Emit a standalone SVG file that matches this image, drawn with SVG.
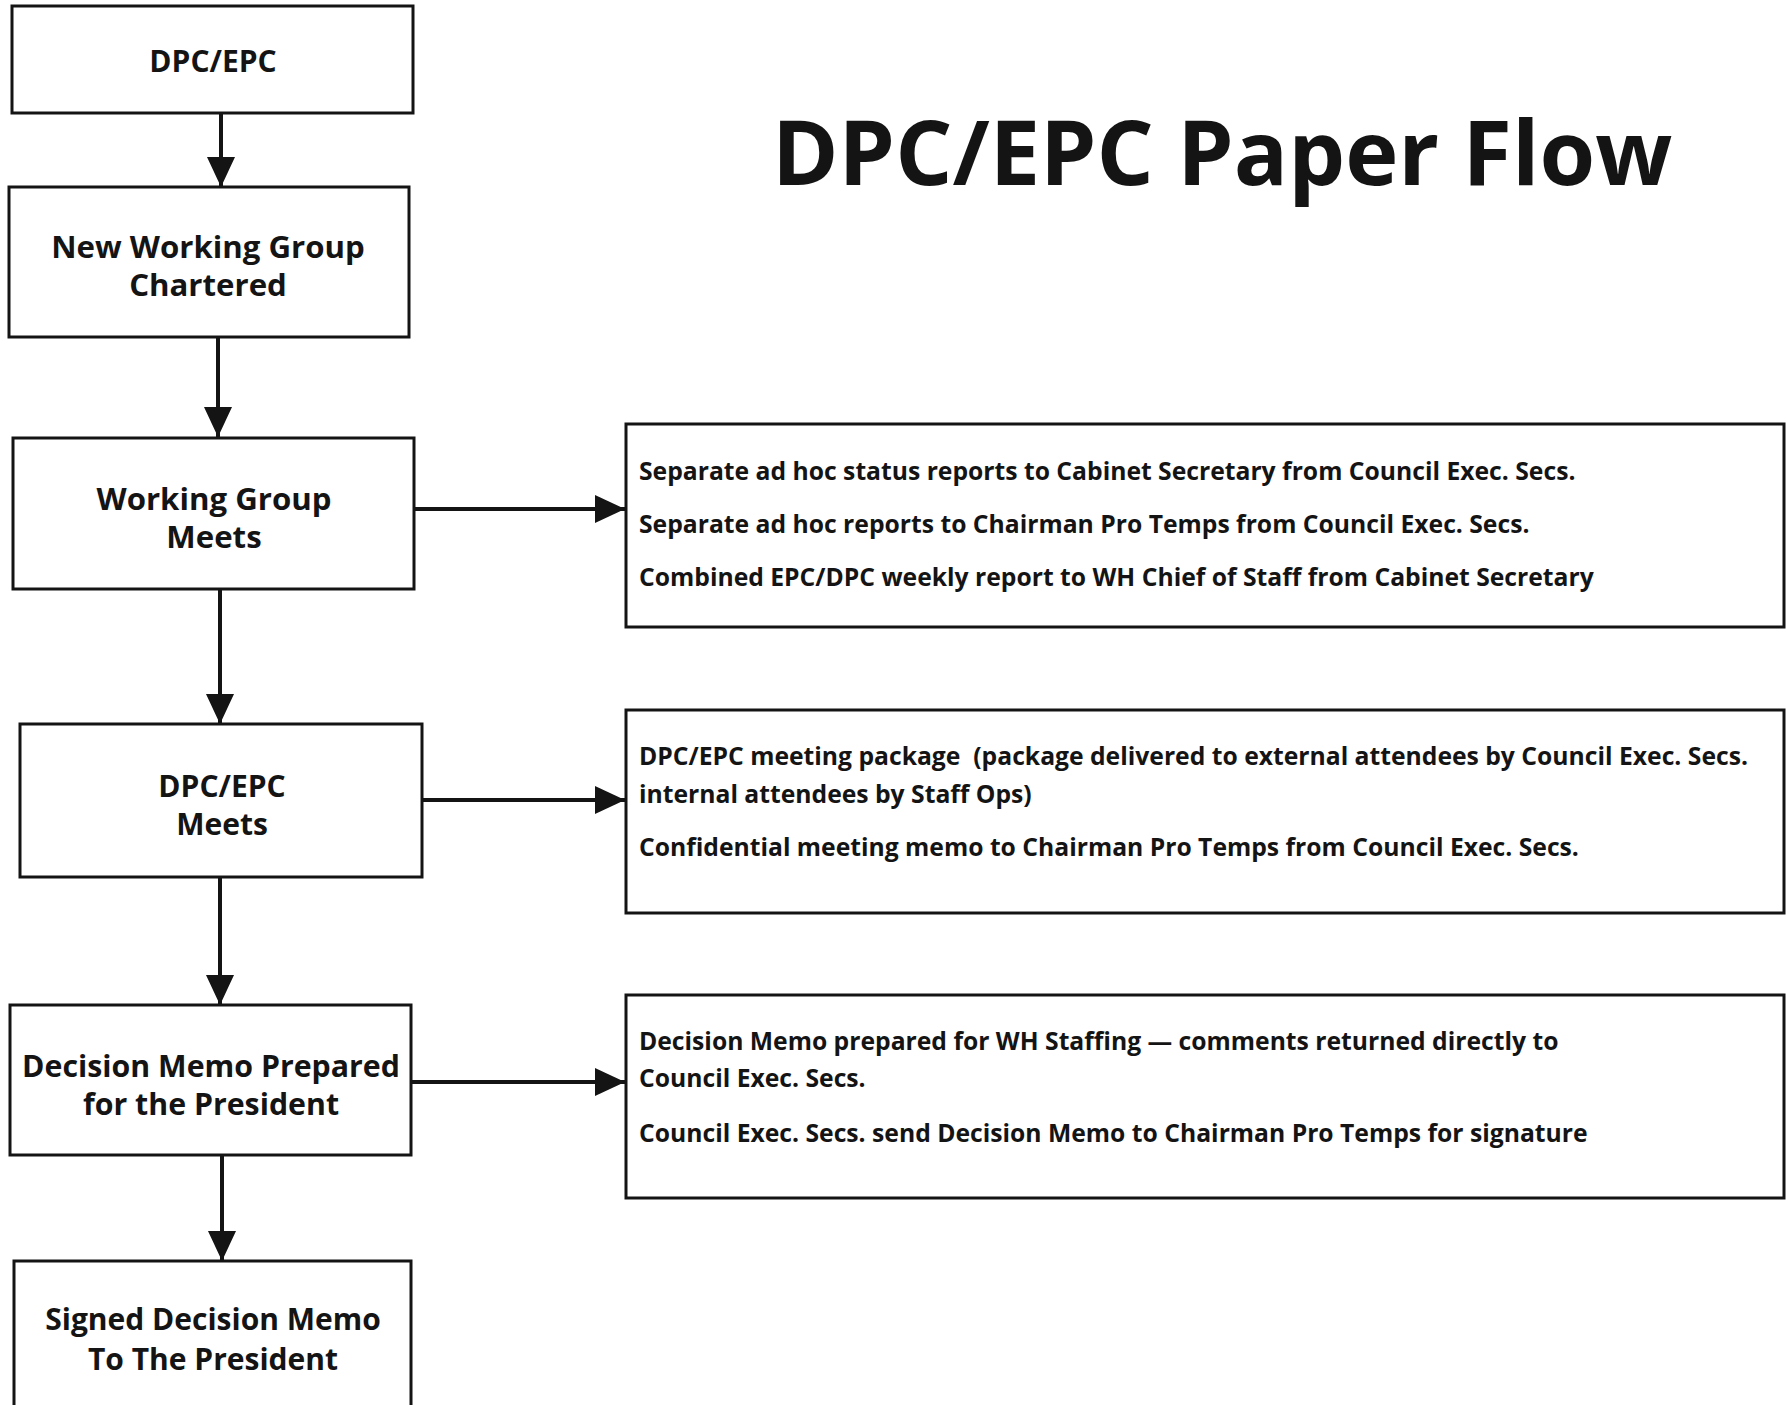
<svg xmlns="http://www.w3.org/2000/svg" width="1786" height="1405" viewBox="0 0 1786 1405">
<style>
.box{fill:#fff;stroke:#141414;stroke-width:3}
.lbl{font-family:"Open Sans","Liberation Sans",sans-serif;font-weight:700;font-size:30.3px;fill:#141414;text-anchor:middle}
.note{font-family:"Open Sans","Liberation Sans",sans-serif;font-weight:700;font-size:24.7px;fill:#141414}
.title{font-family:"Open Sans","Liberation Sans",sans-serif;font-weight:700;font-size:90px;fill:#141414}
.conn{stroke:#141414;stroke-width:4;fill:none}
</style>
<defs>
<marker id="ah" markerUnits="userSpaceOnUse" markerWidth="30" markerHeight="28" refX="30" refY="14" orient="auto">
<path d="M0,0 L30,14 L0,28 Z" fill="#141414"/>
</marker>
</defs>
<rect width="1786" height="1405" fill="#fff"/>
<text class="title" x="772" y="185">DPC/EPC Paper Flow</text>

<g id="connectors">
<line class="conn" x1="221" y1="113" x2="221" y2="187" marker-end="url(#ah)"/>
<line class="conn" x1="218" y1="337" x2="218" y2="437" marker-end="url(#ah)"/>
<line class="conn" x1="220" y1="589" x2="220" y2="724" marker-end="url(#ah)"/>
<line class="conn" x1="220" y1="877" x2="220" y2="1005" marker-end="url(#ah)"/>
<line class="conn" x1="222" y1="1156" x2="222" y2="1261" marker-end="url(#ah)"/>
<line class="conn" x1="414" y1="509" x2="625" y2="509" marker-end="url(#ah)"/>
<line class="conn" x1="422" y1="800" x2="625" y2="800" marker-end="url(#ah)"/>
<line class="conn" x1="411" y1="1082" x2="625" y2="1082" marker-end="url(#ah)"/>
</g>

<g id="n1">
<rect class="box" x="12" y="6" width="401" height="107"/>
<text class="lbl" x="213" y="72" style="font-size:30px">DPC/EPC</text>
</g>
<g id="n2">
<rect class="box" x="9" y="187" width="400" height="150"/>
<text class="lbl" x="208" y="258" style="font-size:31.2px">New Working Group</text>
<text class="lbl" x="208" y="296" style="font-size:31.2px">Chartered</text>
</g>
<g id="n3">
<rect class="box" x="13" y="438" width="401" height="151"/>
<text class="lbl" x="214" y="510" style="font-size:31.2px">Working Group</text>
<text class="lbl" x="214" y="548" style="font-size:31.2px">Meets</text>
</g>
<g id="n4">
<rect class="box" x="20" y="724" width="402" height="153"/>
<text class="lbl" x="222" y="797" style="font-size:30px">DPC/EPC</text>
<text class="lbl" x="222" y="835" style="font-size:30px">Meets</text>
</g>
<g id="n5">
<rect class="box" x="10" y="1005" width="401" height="150"/>
<text class="lbl" x="211" y="1077">Decision Memo Prepared</text>
<text class="lbl" x="211" y="1115">for the President</text>
</g>
<g id="n6">
<rect class="box" x="14" y="1261" width="397" height="160"/>
<text class="lbl" x="213" y="1330" style="font-size:30px">Signed Decision Memo</text>
<text class="lbl" x="213" y="1370" style="font-size:30px">To The President</text>
</g>

<g id="r1">
<rect class="box" x="626" y="424" width="1158" height="203"/>
<text class="note" x="639" y="480">Separate ad hoc status reports to Cabinet Secretary from Council Exec. Secs.</text>
<text class="note" x="639" y="533">Separate ad hoc reports to Chairman Pro Temps from Council Exec. Secs.</text>
<text class="note" x="639" y="586">Combined EPC/DPC weekly report to WH Chief of Staff from Cabinet Secretary</text>
</g>
<g id="r2">
<rect class="box" x="626" y="710" width="1158" height="203"/>
<text class="note" x="639" y="765">DPC/EPC meeting package&#160; (package delivered to external attendees by Council Exec. Secs.</text>
<text class="note" x="639" y="803">internal attendees by Staff Ops)</text>
<text class="note" x="639" y="856">Confidential meeting memo to Chairman Pro Temps from Council Exec. Secs.</text>
</g>
<g id="r3">
<rect class="box" x="626" y="995" width="1158" height="203"/>
<text class="note" x="639" y="1050">Decision Memo prepared for WH Staffing — comments returned directly to</text>
<text class="note" x="639" y="1087">Council Exec. Secs.</text>
<text class="note" x="639" y="1142">Council Exec. Secs. send Decision Memo to Chairman Pro Temps for signature</text>
</g>
</svg>
